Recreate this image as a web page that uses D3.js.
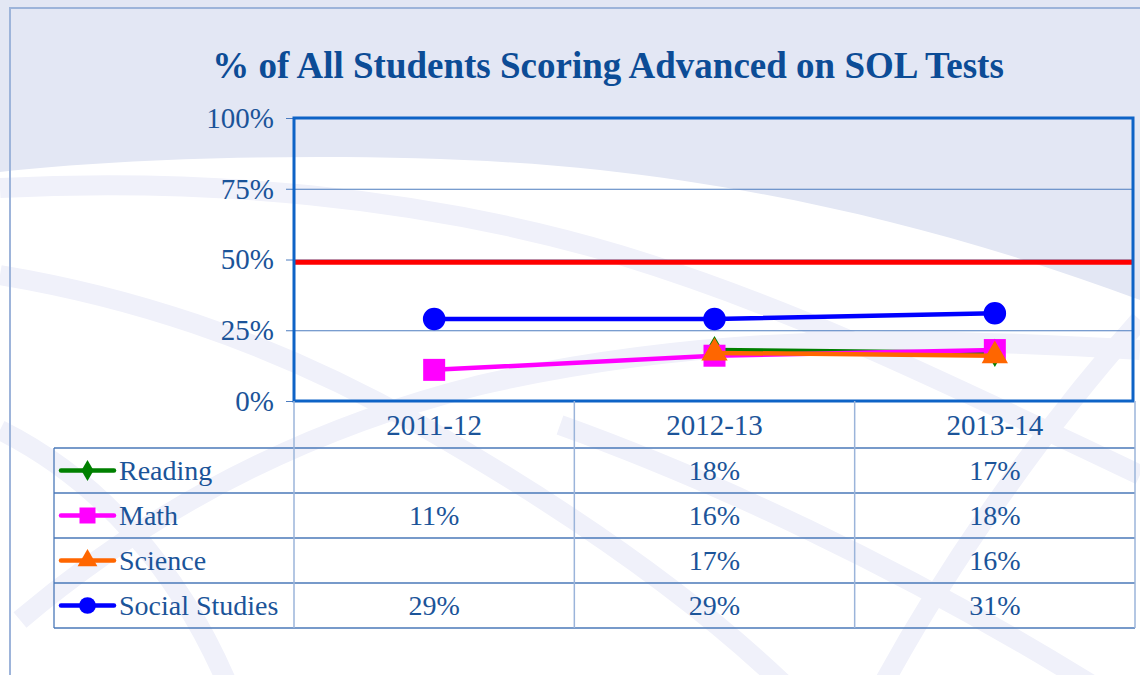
<!DOCTYPE html>
<html>
<head>
<meta charset="utf-8">
<script src="https://cdn.jsdelivr.net/npm/d3@7"></script>
<style>
  html, body { margin: 0; padding: 0; background: #e3e7f4; }
  svg { display: block; font-family: "Liberation Serif", "DejaVu Serif", serif; }
</style>
</head>
<body>
<div id="chart"></div>
<script>
// data
const years = ['2011-12', '2012-13', '2013-14'];
const seriesNames = ['Reading', 'Math', 'Science', 'Social Studies'];
const reading = [null, 18, 17];
const math = [11, 16, 18];
const science = [null, 17, 16];
const socialStudies = [29, 29, 31];
const targetLine = 49;
const yTicks = [0, 25, 50, 75, 100];
const titleText = '% of All Students Scoring Advanced on SOL Tests';

const W = 1140, H = 675;
const plot = { left: 294, right: 1133, top: 118, bottom: 401 };
const tableLeft = 54, tableRight = 1135;
const headerBottom = 448, tableBottom = 628;

const seriesStyle = {
  'Reading':        { color: '#008000', symbol: d3.symbolDiamond, size: 230, small: 130 },
  'Math':           { color: '#ff00ff', symbol: d3.symbolSquare,  size: 484, small: 256 },
  'Science':        { color: '#ff6600', symbol: d3.symbolTriangle, size: 300, small: 170 },
  'Social Studies': { color: '#0000ff', symbol: d3.symbolCircle,  size: 400, small: 220 }
};
const seriesValues = {
  'Reading': reading, 'Math': math, 'Science': science, 'Social Studies': socialStudies
};

const svg = d3.select('#chart').append('svg')
  .attr('width', W)
  .attr('height', H);

// background swooshes
svg.append('rect').attr('width', W).attr('height', H).attr('fill', '#e3e7f4');
svg.append('path')
  .attr('d', 'M0,172 C150,155 420,150 600,170 C800,192 980,240 1140,300 L1140,675 L0,675 Z')
  .attr('fill', '#ffffff');
const bands = [
  'M0,188 C200,178 420,195 620,255 C800,310 950,385 1140,475',
  'M0,275 C120,295 260,335 420,425 C560,505 700,600 800,700',
  'M20,620 C150,510 300,430 480,385 C700,335 900,335 1140,350',
  'M880,690 C950,560 1050,420 1140,320',
  'M0,430 C100,480 180,570 230,690',
  'M560,425 C700,475 900,565 1100,690'
];
svg.selectAll('path.band')
  .data(bands)
  .enter()
  .append('path')
  .attr('class', 'band')
  .attr('d', d => d)
  .attr('fill', 'none')
  .attr('stroke', '#f0f1fa')
  .attr('stroke-width', 20);

// outer frame
svg.append('rect')
  .attr('x', 10).attr('y', 8)
  .attr('width', W).attr('height', H)
  .attr('fill', 'none')
  .attr('stroke', '#9db4da')
  .attr('stroke-width', 2);

// title
svg.append('text')
  .attr('x', 608)
  .attr('y', 78)
  .attr('text-anchor', 'middle')
  .attr('fill', '#0c4c96')
  .style('font-size', '37px')
  .style('font-weight', 'bold')
  .text(titleText);

const x = d3.scaleBand().domain(years).range([plot.left, tableRight]);
const y = d3.scaleLinear().domain([0, 100]).range([plot.bottom, plot.top]);

// gridlines + tick labels
const yAxis = svg.append('g')
  .attr('transform', 'translate(' + plot.left + ',0)')
  .call(d3.axisLeft(y).tickValues(yTicks).tickSize(-(plot.right - plot.left)).tickSizeOuter(0).tickPadding(20).tickFormat(d => d + '%'));
yAxis.select('.domain').remove();
yAxis.selectAll('.tick line').attr('stroke', '#4c7cbf').attr('stroke-width', 1).attr('x1', -8);
yAxis.selectAll('.tick text')
  .attr('fill', '#1b5499')
  .style('font-size', '29px')
  .style('font-family', '"Liberation Serif", serif');

// target line
svg.append('line')
  .attr('x1', plot.left).attr('x2', plot.right)
  .attr('y1', y(targetLine)).attr('y2', y(targetLine))
  .attr('stroke', '#ff0000')
  .attr('stroke-width', 5);

// series lines + markers
const line = d3.line()
  .defined(d => d.v !== null)
  .x(d => x(d.year) + x.bandwidth() / 2)
  .y(d => y(d.v));

seriesNames.forEach(name => {
  const st = seriesStyle[name];
  const pts = years.map((yr, i) => ({ year: yr, v: seriesValues[name][i] }));
  svg.append('path')
    .datum(pts)
    .attr('d', line)
    .attr('fill', 'none')
    .attr('stroke', st.color)
    .attr('stroke-width', 4.5);
  svg.selectAll('.m-' + name.replace(' ', ''))
    .data(pts.filter(d => d.v !== null))
    .enter()
    .append('path')
    .attr('transform', d => 'translate(' + (x(d.year) + x.bandwidth() / 2) + ',' + y(d.v) + ')')
    .attr('d', d3.symbol().type(st.symbol).size(st.size))
    .attr('fill', st.color);
});

// plot border
svg.append('rect')
  .attr('x', plot.left).attr('y', plot.top)
  .attr('width', plot.right - plot.left)
  .attr('height', plot.bottom - plot.top)
  .attr('fill', 'none')
  .attr('stroke', '#0e63c6')
  .attr('stroke-width', 3);

// data table
const row = d3.scaleBand().domain(seriesNames).range([headerBottom, tableBottom]);
const table = svg.append('g');

table.selectAll('line.h')
  .data([headerBottom].concat(seriesNames.map(n => row(n) + row.bandwidth())))
  .enter()
  .append('line')
  .attr('x1', tableLeft).attr('x2', tableRight)
  .attr('y1', d => d).attr('y2', d => d)
  .attr('stroke', '#4a78b8')
  .attr('stroke-width', 1.3);

table.selectAll('line.v')
  .data(years.map(yr => x(yr)).concat([tableRight]))
  .enter()
  .append('line')
  .attr('x1', d => d).attr('x2', d => d)
  .attr('y1', plot.bottom).attr('y2', tableBottom)
  .attr('stroke', '#9bb4da')
  .attr('stroke-width', 1.5);

table.append('line')
  .attr('x1', tableLeft).attr('x2', tableLeft)
  .attr('y1', headerBottom).attr('y2', tableBottom)
  .attr('stroke', '#4a78b8')
  .attr('stroke-width', 1.3);

// header labels
table.selectAll('text.year')
  .data(years)
  .enter()
  .append('text')
  .attr('x', d => x(d) + x.bandwidth() / 2)
  .attr('y', (plot.bottom + headerBottom) / 2 + 10)
  .attr('text-anchor', 'middle')
  .attr('fill', '#1b5499')
  .style('font-size', '29px')
  .text(d => d);

// legend cells + values
seriesNames.forEach(name => {
  const st = seriesStyle[name];
  const cy = row(name) + row.bandwidth() / 2;
  table.append('line')
    .attr('x1', 61).attr('x2', 114)
    .attr('y1', cy).attr('y2', cy)
    .attr('stroke', st.color)
    .attr('stroke-width', 4.5)
    .attr('stroke-linecap', 'round');
  table.append('path')
    .attr('transform', 'translate(87.5,' + cy + ')')
    .attr('d', d3.symbol().type(st.symbol).size(st.small))
    .attr('fill', st.color);
  table.append('text')
    .attr('x', 119)
    .attr('y', cy + 9)
    .attr('fill', '#1b5499')
    .style('font-size', '28px')
    .text(name);
  table.selectAll(null)
    .data(years.map((yr, i) => ({ year: yr, v: seriesValues[name][i] })).filter(d => d.v !== null))
    .enter()
    .append('text')
    .attr('x', d => x(d.year) + x.bandwidth() / 2)
    .attr('y', cy + 9)
    .attr('text-anchor', 'middle')
    .attr('fill', '#1b5499')
    .style('font-size', '28px')
    .text(d => d.v + '%');
});
</script>
</body>
</html>
